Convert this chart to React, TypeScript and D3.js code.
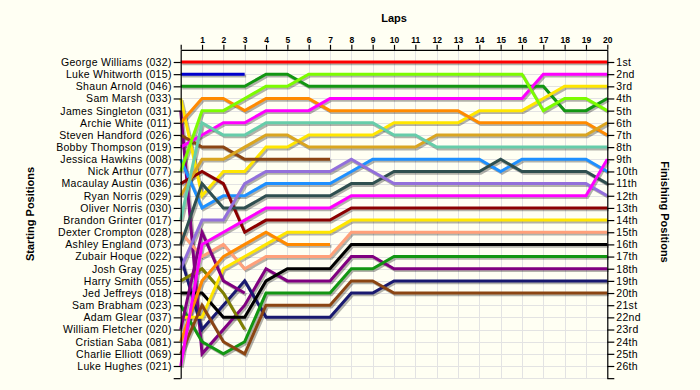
import React, { useEffect, useRef } from "react"
import * as d3 from "d3"

// starting grid, top to bottom
const drivers = [
  "George Williams (032)", "Luke Whitworth (015)", "Shaun Arnold (046)", "Sam Marsh (033)",
  "James Singleton (031)", "Archie White (011)", "Steven Handford (026)", "Bobby Thompson (019)",
  "Jessica Hawkins (008)", "Nick Arthur (077)", "Macaulay Austin (036)", "Ryan Norris (029)",
  "Oliver Norris (030)", "Brandon Grinter (017)", "Dexter Crompton (028)", "Ashley England (073)",
  "Zubair Hoque (022)", "Josh Gray (025)", "Harry Smith (055)", "Jed Jeffreys (018)",
  "Sam Brabham (023)", "Adam Glear (037)", "William Fletcher (020)", "Cristian Saba (081)",
  "Charlie Elliott (069)", "Luke Hughes (021)",
]

const finishLabels = [
  "1st", "2nd", "3rd", "4th", "5th", "6th", "7th", "8th", "9th", "10th", "11th", "12th", "13th",
  "14th", "15th", "16th", "17th", "18th", "19th", "20th", "21st", "22nd", "23rd", "24th", "25th", "26th",
]

const lapLabels = ["1", "2", "3", "4", "5", "6", "7", "8", "9", "10", "11", "12", "13", "14", "15", "16", "17", "18", "19", "20"]

// position at lap 0 (grid), lap 1, lap 2 ... until the car stops
const georgeWilliams = [1, 1, 1, 1, 1, 1, 1, 1, 1, 1, 1, 1, 1, 1, 1, 1, 1, 1, 1, 1, 1]
const lukeWhitworth = [2, 2, 2, 2]
const shaunArnold = [3, 3, 3, 3, 2, 2, 3, 3, 3, 3, 3, 3, 3, 3, 3, 3, 3, 3, 5, 5, 4]
const samMarsh = [4, 12, 10, 10, 8, 8, 7, 7, 7, 7, 6, 6, 6, 6, 5, 5, 5, 4, 3, 3, 3]
const jamesSingleton = [5, 25, 23, 21, 18, 19, 19, 19, 17, 17, 18, 18, 18, 18, 18, 18, 18, 18, 18, 18, 18]
const archieWhite = [6, 4, 4, 5, 4, 4, 4, 5, 5, 5, 5, 5, 5, 5, 6, 6, 6, 6, 6, 6, 7]
const stevenHandford = [7, 8, 8, 9, 9, 9, 9, 9]
const bobbyThompson = [8, 7, 6, 6, 5, 5, 5, 4, 4, 4, 4, 4, 4, 4, 4, 4, 4, 2, 2, 2, 2]
const jessicaHawkins = [9, 13, 12, 12, 11, 11, 11, 11, 10, 9, 9, 9, 9, 9, 9, 10, 9, 9, 9, 9, 10]
const nickArthur = [10, 5, 5, 4, 3, 3, 2, 2, 2, 2, 2, 2, 2, 2, 2, 2, 2, 5, 4, 4, 5]
const macaulayAustin = [11, 10, 11, 15, 14, 14, 14, 14, 13, 13, 13, 13, 13, 13, 13, 13, 13, 13, 13, 13, 13]
const ryanNorris = [12, 9, 9, 8, 7, 7, 8, 8, 8, 8, 8, 8, 7, 7, 7, 7, 7, 7, 7, 7, 6]
const oliverNorris: number[] = [13]
const brandonGrinter = [14, 6, 7, 7, 6, 6, 6, 6, 6, 6, 7, 7, 8, 8, 8, 8, 8, 8, 8, 8, 8]
const dexterCrompton = [15, 17, 16, 18, 17, 17, 17, 17, 15, 15, 15, 15, 15, 15, 15, 15, 15, 15, 15, 15, 15]
const ashleyEngland = [16, 11, 13, 13, 12, 12, 12, 12, 11, 11, 10, 10, 10, 10, 10, 9, 10, 10, 10, 10, 11]
const zubairHoque = [17, 23, 21, 19, 22, 22, 22, 22, 20, 20, 19, 19, 19, 19, 19, 19, 19, 19, 19, 19, 19]
const joshGray = [18, 14, 14, 11, 10, 10, 10, 10, 9, 10, 11, 11, 11, 11, 11, 11, 11, 11, 11, 11, 12]
const harrySmith = [19, 18, 20, 23]
const jedJeffreys = [20, 20, 22, 22, 19, 18, 18, 18, 16, 16, 16, 16, 16, 16, 16, 16, 16, 16, 16, 16, 16]
const samBrabham = [21, 24, 25, 24, 20, 20, 20, 20, 18, 18, 17, 17, 17, 17, 17, 17, 17, 17, 17, 17, 17]
const adamGlear = [22, 22, 18, 17, 16, 15, 15, 15, 14, 14, 14, 14, 14, 14, 14, 14, 14, 14, 14, 14, 14]
const williamFletcher = [23, 15, 19, 20]
const cristianSaba = [24, 19, 17, 16, 15, 16, 16, 16]
const charlieElliott = [25, 21, 24, 25, 21, 21, 21, 21, 19, 19, 20, 20, 20, 20, 20, 20, 20, 20, 20, 20, 20]
const lukeHughes = [26, 16, 15, 14, 13, 13, 13, 13, 12, 12, 12, 12, 12, 12, 12, 12, 12, 12, 12, 12, 9]

const colors = [
  "#ff0000", "#0000cd", "#129612", "#ffe600", "#800080", "#ff8a00", "#8b4513", "#ff00ff",
  "#1e90ff", "#7cfc00", "#8b0000", "#daa520", "#66cdaa", "#66cdaa", "#ffa07a", "#2f4f4f",
  "#191970", "#9370db", "#808000", "#000000", "#129612", "#ffe600", "#800080", "#ff8a00",
  "#8b4513", "#ff00ff",
]

const series = [
  georgeWilliams, lukeWhitworth, shaunArnold, samMarsh, jamesSingleton, archieWhite,
  stevenHandford, bobbyThompson, jessicaHawkins, nickArthur, macaulayAustin, ryanNorris,
  oliverNorris, brandonGrinter, dexterCrompton, ashleyEngland, zubairHoque, joshGray,
  harrySmith, jedJeffreys, samBrabham, adamGlear, williamFletcher, cristianSaba,
  charlieElliott, lukeHughes,
]

export default function App() {
  const ref = useRef<SVGSVGElement>(null)

  useEffect(() => {
    const svg = d3.select(ref.current)
    svg.selectAll("*").remove()

    const width = 700, height = 390
    const font = "Arial, 'Liberation Sans', sans-serif"

    var x = d3.scaleLinear().domain([0, 20]).range([180.7, 607.3])
    var y = d3.scaleLinear().domain([0, 27]).range([49.84, 378.16])

    svg.append("rect").attr("width", width).attr("height", height).attr("fill", "#fffff3")

    // grid
    var grid = svg.append("g").attr("stroke", "#e3e3e3").attr("stroke-width", 1)
    grid.selectAll(".v").data(d3.range(1, 21)).enter().append("line")
      .attr("x1", d => Math.round(x(d)) + 0.5).attr("x2", d => Math.round(x(d)) + 0.5)
      .attr("y1", y(0)).attr("y2", y(27))
    grid.selectAll(".h").data(d3.range(1, 28)).enter().append("line")
      .attr("x1", x(0)).attr("x2", x(20))
      .attr("y1", d => Math.round(y(d)) + 0.5).attr("y2", d => Math.round(y(d)) + 0.5)

    var line = d3.line<number>()
      .x((d, i) => x(i))
      .y(d => y(d))

    var drawn = series.map((s, i) => ({ s, c: colors[i] })).filter(d => d.s.length > 1)

    // drop shadows first, then the coloured lines
    svg.append("g").attr("transform", "translate(1.5,1.8)")
      .selectAll("path").data(drawn).enter().append("path")
      .attr("d", d => line(d.s))
      .attr("fill", "none")
      .attr("stroke", "#000")
      .attr("stroke-opacity", 0.3)
      .attr("stroke-width", 3)

    svg.append("g")
      .selectAll("path").data(drawn).enter().append("path")
      .attr("d", d => line(d.s))
      .attr("fill", "none")
      .attr("stroke", d => d.c)
      .attr("stroke-width", 3)

    // axes
    var left = svg.append("g").attr("transform", "translate(" + x(0) + ",0)")
      .call(d3.axisLeft(y).tickValues(d3.range(1, 28)).tickSize(7).tickSizeOuter(0).tickPadding(2)
        .tickFormat(d => drivers[+d - 1] || ""))
    var right = svg.append("g").attr("transform", "translate(" + x(20) + ",0)")
      .call(d3.axisRight(y).tickValues(d3.range(1, 28)).tickSize(7).tickSizeOuter(0).tickPadding(2)
        .tickFormat(d => finishLabels[+d - 1] || ""))
    var top = svg.append("g").attr("transform", "translate(0," + y(0) + ")")
      .call(d3.axisTop(x).tickValues(d3.range(0, 21)).tickSize(5).tickSizeOuter(0).tickPadding(2)
        .tickFormat(d => lapLabels[+d - 1] || ""))

    ;[left, right, top].forEach(g => {
      g.selectAll("path, line").attr("stroke", "#000").attr("stroke-width", 1.2)
      g.selectAll("text").attr("fill", "#000").attr("font-family", font)
    })
    left.selectAll("text").attr("font-size", 10.5).attr("letter-spacing", "0.3px")
    right.selectAll("text").attr("font-size", 10.5).attr("letter-spacing", "0.3px")
    top.selectAll("text").attr("font-size", 8.5).attr("font-weight", "bold")

    svg.append("text").attr("x", 394).attr("y", 22)
      .attr("text-anchor", "middle").attr("font-family", font)
      .attr("font-size", 11).attr("font-weight", "bold").text("Laps")

    svg.append("text").attr("transform", "translate(34,214) rotate(-90)")
      .attr("text-anchor", "middle").attr("font-family", font)
      .attr("font-size", 11).attr("font-weight", "bold").text("Starting Positions")

    svg.append("text").attr("transform", "translate(661,212) rotate(90)")
      .attr("text-anchor", "middle").attr("font-family", font)
      .attr("font-size", 11).attr("font-weight", "bold").text("Finishing Positions")
  }, [])

  return (
    <svg ref={ref} width={700} height={390} style={{ position: "absolute", left: 0, top: 0 }}></svg>
  )
}
